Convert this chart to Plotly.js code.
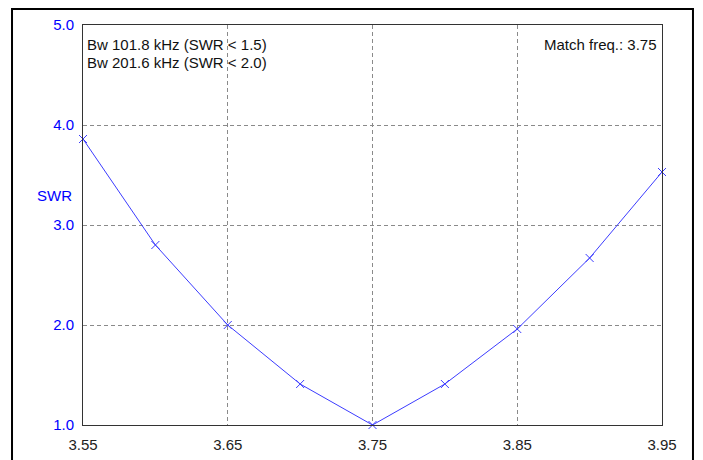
<!DOCTYPE html>
<html><head><meta charset="utf-8">
<script src="https://cdn.plot.ly/plotly-3.0.1.min.js"></script>
<style>body{margin:0;background:#fff}#c{width:703px;height:460px}</style>
</head><body><div id="c"></div>
<script>
const freq = [3.55, 3.60, 3.65, 3.70, 3.75, 3.80, 3.85, 3.90, 3.95];
const swr  = [3.86, 2.80, 2.00, 1.41, 1.00, 1.41, 1.96, 2.67, 3.53];
const xTicks = [3.55, 3.65, 3.75, 3.85, 3.95];
const xTickText = ["3.55", "3.65", "3.75", "3.85", "3.95"];
const yTicks = [1, 2, 3, 4, 5];
const yTickText = ["1.0", "2.0", "3.0", "4.0", "5.0"];
const bwLines = ["Bw 101.8 kHz (SWR < 1.5)", "Bw 201.6 kHz (SWR < 2.0)"];
const matchText = "Match freq.: 3.75";
const yLabel = "SWR";

const font = "Liberation Sans, Arial, sans-serif";
const trace = {
  x: freq, y: swr, type: "scatter", mode: "lines+markers",
  line: {color: "#3c3cff", width: 1},
  marker: {symbol: "x-thin-open", size: 8, color: "#3c3cff", line: {color: "#3c3cff", width: 1}},
  hoverinfo: "skip", cliponaxis: false
};
const layout = {
  width: 703, height: 460,
  margin: {l: 83, r: 41, t: 25, b: 35},
  paper_bgcolor: "#fff", plot_bgcolor: "#fff",
  showlegend: false,
  font: {family: font, size: 12, color: "#000"},
  xaxis: {
    range: [3.55, 3.95], tickvals: xTicks, ticktext: xTickText,
    showgrid: true, gridcolor: "#8a8a8a", griddash: "4px,3px", gridwidth: 1,
    zeroline: false, showline: true, linecolor: "#333", linewidth: 1, mirror: true,
    ticks: "", ticklabelstandoff: 6, tickfont: {family: font, size: 15, color: "#222"}
  },
  yaxis: {
    range: [1, 5], tickvals: yTicks, ticktext: yTickText,
    showgrid: true, gridcolor: "#8a8a8a", griddash: "4px,3px", gridwidth: 1,
    zeroline: false, showline: true, linecolor: "#333", linewidth: 1, mirror: true,
    ticks: "", ticklabelstandoff: 5, tickfont: {family: font, size: 15, color: "#0000ff"}
  },
  annotations: [
    {xref: "paper", yref: "paper", x: 0.003, y: 0.951, xanchor: "left", yanchor: "middle",
     text: bwLines[0], showarrow: false, font: {family: font, size: 15, color: "#111"}},
    {xref: "paper", yref: "paper", x: 0.003, y: 0.9075, xanchor: "left", yanchor: "middle",
     text: bwLines[1], showarrow: false, font: {family: font, size: 15, color: "#111"}},
    {xref: "paper", yref: "paper", x: 0.995, y: 0.952, xanchor: "right", yanchor: "middle",
     text: matchText, showarrow: false, font: {family: font, size: 15, color: "#111"}},
    {xref: "paper", yref: "paper", x: -0.015, y: 0.575, xanchor: "right", yanchor: "middle",
     text: yLabel, showarrow: false, font: {family: font, size: 15, color: "#0000ff"}}
  ],
  shapes: [
    {type: "rect", xref: "paper", yref: "paper", x0: -0.1226, x1: 1.0535, y0: -0.15, y1: 1.04,
     line: {color: "#000", width: 2}, fillcolor: "rgba(0,0,0,0)", layer: "below"}
  ]
};
Plotly.newPlot("c", [trace], layout, {staticPlot: true, displayModeBar: false});
</script></body></html>
